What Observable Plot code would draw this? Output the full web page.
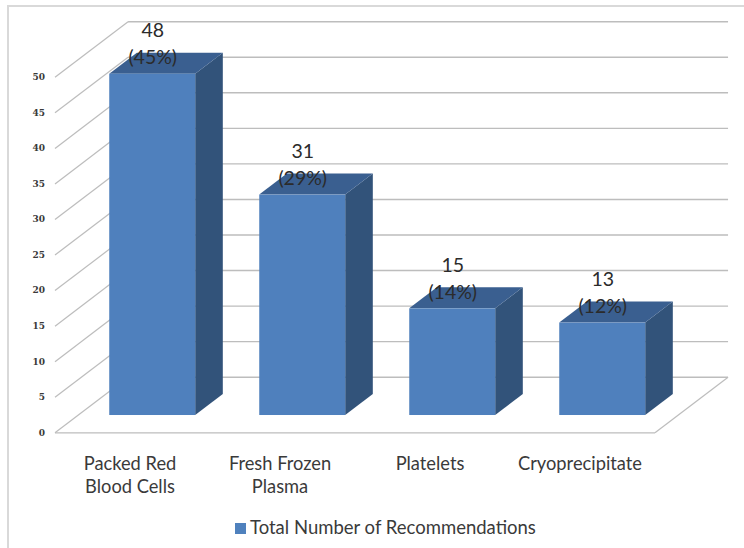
<!DOCTYPE html>
<html>
<head>
<meta charset="utf-8">
<script src="https://cdn.jsdelivr.net/npm/d3@7"></script>
<script src="https://cdn.jsdelivr.net/npm/@observablehq/plot@0.6"></script>
<style>
html,body{margin:0;padding:0;background:#fff;}
#page{position:relative;width:744px;height:548px;overflow:hidden;}
#frame{position:absolute;left:7px;top:5px;width:737px;height:543px;border-left:2px solid #d9d9d9;border-top:2px solid #d9d9d9;box-sizing:border-box;}
#chart{position:absolute;left:0;top:0;}
#chart svg{overflow:visible;background:transparent;}
#legend{position:absolute;left:235px;top:515px;height:24px;display:flex;align-items:center;font:18.5px Lato,sans-serif;color:#3a3a3a;white-space:nowrap;}
#legend i{display:inline-block;width:11px;height:11px;background:#4f81bd;margin-right:4px;margin-top:2px;}
</style>
</head>
<body>
<div id="page">
  <div id="frame"></div>
  <div id="chart"></div>
  <div id="legend"><i></i><span id="legend-text"></span></div>
</div>
<script>
const categories = ["Packed Red\nBlood Cells", "Fresh Frozen\nPlasma", "Platelets", "Cryoprecipitate"];
const values = [48, 31, 15, 13];
const percents = ["45%", "29%", "14%", "12%"];
const yTicks = [0, 5, 10, 15, 20, 25, 30, 35, 40, 45, 50];
const seriesName = "Total Number of Recommendations";

// Oblique projection: how far one full unit of chart depth shifts in data units
const depthX = 0.487;   // category widths
const depthY = 7.82;    // value units
const barWidth = 0.573;
const depthNear = 0.311;
const depthFar = 0.689;

const px = (i, side, z) => i + 0.5 + side * barWidth / 2 + z * depthX;
const py = (v, z) => v + z * depthY;
const bars = values.map((v, i) => ({i, v, label: `${v}\n(${percents[i]})`, category: categories[i]}));

const frontFace = bars;
const sideFace = bars.flatMap(b => [depthNear, depthFar].map(z => ({
  i: b.i, x: px(b.i, 1, z), y1: py(0, z), y2: py(b.v, z)
})));
const topFace = bars.flatMap(b => [depthNear, depthFar].map(z => ({
  i: b.i, y: py(b.v, z), x1: px(b.i, -1, z), x2: px(b.i, 1, z)
})));

const n = categories.length;
const gridColor = "#bdbdbd";
const axisFont = "DejaVu Serif";

const plot = Plot.plot({
  width: 744,
  height: 510,
  marginLeft: 54.5,
  marginRight: 89.5,
  marginTop: 76.8,
  marginBottom: 77.7,
  x: {domain: [0, n], axis: null},
  y: {domain: [0, 50], axis: null},
  marks: [
    // left wall diagonals
    Plot.link(yTicks, {x1: 0, y1: d => d, x2: depthX, y2: d => py(d, 1), stroke: gridColor, strokeWidth: 1.2}),
    // back wall gridlines
    Plot.link(yTicks, {x1: depthX, y1: d => py(d, 1), x2: n + depthX, y2: d => py(d, 1), stroke: gridColor, strokeWidth: 1.4}),
    // floor front and right edges
    Plot.link([0], {x1: 0, y1: 0, x2: n, y2: 0, stroke: gridColor, strokeWidth: 1.2}),
    Plot.link([0], {x1: n, y1: 0, x2: n + depthX, y2: py(0, 1), stroke: gridColor, strokeWidth: 1.2}),
    // 3D bars
    Plot.areaY(sideFace, {x: "x", y1: "y1", y2: "y2", z: "i", fill: "#32537a"}),
    Plot.areaX(topFace, {y: "y", x1: "x1", x2: "x2", z: "i", fill: "#3a5f90"}),
    Plot.rect(frontFace, {
      x1: d => px(d.i, -1, depthNear),
      x2: d => px(d.i, 1, depthNear),
      y1: d => py(0, depthNear),
      y2: d => py(d.v, depthNear),
      fill: "#4f80bd"
    }),
    // value labels
    Plot.text(bars, {
      x: d => px(d.i, 0, depthNear),
      y: d => py(d.v, depthNear),
      text: "label",
      lineAnchor: "bottom",
      lineHeight: 1.4,
      dy: -10,
      fontSize: 19.5,
      fontFamily: "Lato",
      fill: "#2b2b2b"
    }),
    // axes
    Plot.axisY(yTicks, {
      anchor: "left",
      tickSize: 0,
      tickPadding: 10,
      label: null,
      fontSize: 9,
      fontFamily: axisFont,
      fontWeight: "bold",
      fill: "#3a3a3a"
    }),
    Plot.axisX(categories.map((c, i) => i + 0.5), {
      anchor: "bottom",
      tickSize: 0,
      tickPadding: 20,
      label: null,
      tickFormat: d => categories[Math.floor(d)],
      fontSize: 18.3,
      fontFamily: "Lato",
      lineHeight: 1.29,
      fill: "#3a3a3a"
    })
  ]
});
document.getElementById("chart").appendChild(plot);
document.getElementById("legend-text").textContent = seriesName;
</script>
</body>
</html>
